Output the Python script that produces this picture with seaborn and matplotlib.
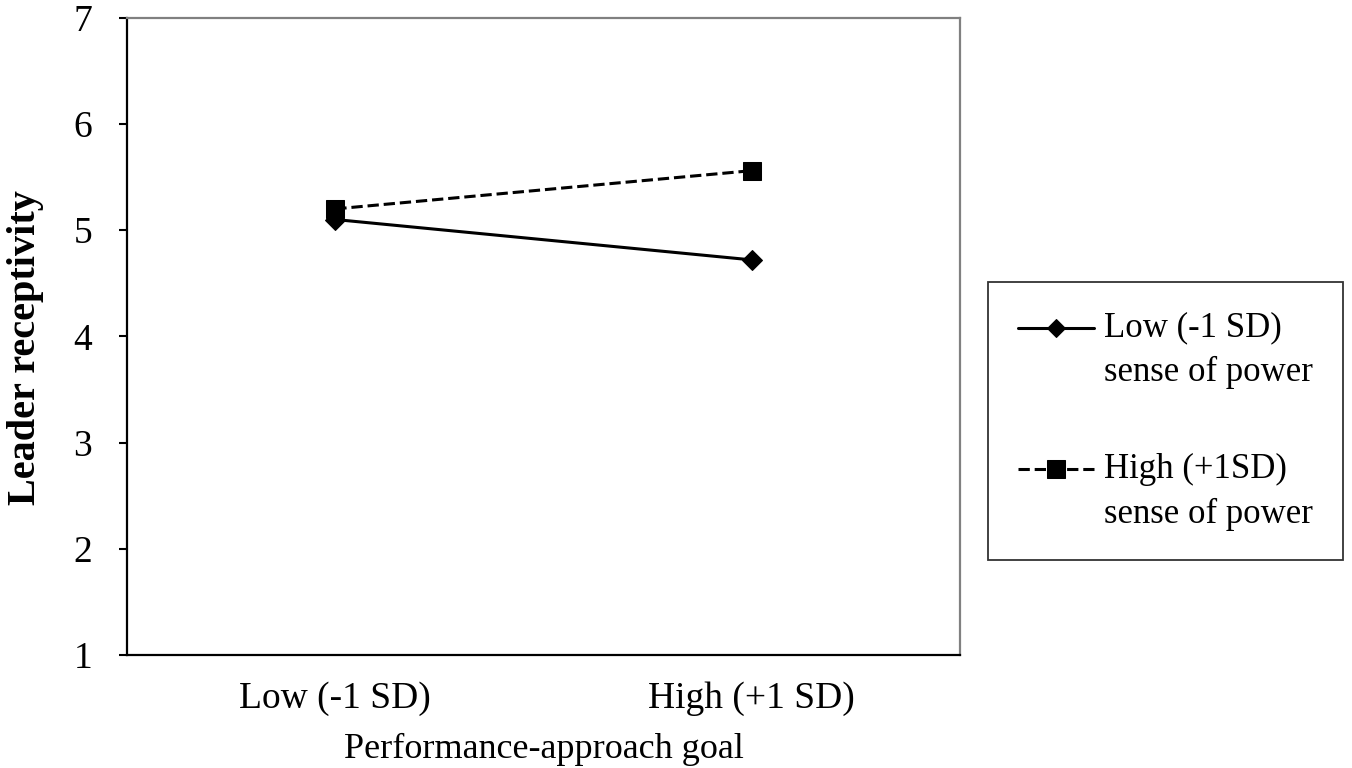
import matplotlib
matplotlib.use("Agg")
import matplotlib.pyplot as plt
import seaborn as sns
import pandas as pd
from matplotlib.legend_handler import HandlerLine2D

# | Data |---------------------------------------------------------------------|
goal_levels = ["Low (-1 SD)", "High (+1 SD)"]
low_power = [5.10, 4.72]
high_power = [5.20, 5.56]
series_labels = ["Low (-1 SD)\nsense of power", "High (+1SD)\nsense of power"]
y_ticks = [1, 2, 3, 4, 5, 6, 7]
# |---------------------------------------------------------------------------|

LEGEND_FS = 25


class FirstLineHandler(HandlerLine2D):
    """Line handle aligned with the first text line instead of the middle."""
    def create_artists(self, legend, orig_handle, xdescent, ydescent,
                       width, height, fontsize, trans):
        artists = super().create_artists(legend, orig_handle, xdescent, ydescent,
                                         width, height, fontsize, trans)
        for a in artists:
            a.set_ydata([y + 0.66 * fontsize for y in a.get_ydata()])
        return artists


sns.set_theme(style="white")
plt.rcParams["font.family"] = ["Liberation Serif", "DejaVu Serif"]
plt.rcParams["text.color"] = "black"
plt.rcParams["xtick.color"] = "black"
plt.rcParams["ytick.color"] = "black"
plt.rcParams["axes.labelcolor"] = "black"

df = pd.DataFrame({
    "goal": goal_levels * 2,
    "value": low_power + high_power,
    "power": [series_labels[0]] * 2 + [series_labels[1]] * 2,
})

fig = plt.figure(figsize=(13.52, 7.68), dpi=100)
ax = fig.add_axes([0.094, 0.147, 0.616, 0.830])

styles = {
    series_labels[0]: dict(marker="D", linestyle="-", markersize=10),
    series_labels[1]: dict(marker="s", linestyle="--", markersize=13),
}
for name in series_labels:
    sub = df[df["power"] == name]
    sns.lineplot(data=sub, x="goal", y="value", ax=ax, color="black",
                 linewidth=2.2, label=name, markeredgecolor="black",
                 markerfacecolor="black", **styles[name])

ax.set_xlim(-0.5, 1.5)
ax.set_ylim(1, 7)
ax.set_yticks(y_ticks)
ax.tick_params(axis="y", direction="out", length=6, width=1.5,
               pad=19, labelsize=27, left=True)
ax.tick_params(axis="x", length=0, pad=19, labelsize=27)

for side in ["left", "bottom"]:
    ax.spines[side].set_color("black")
    ax.spines[side].set_linewidth(1.6)
for side in ["top", "right"]:
    ax.spines[side].set_color("#808080")
    ax.spines[side].set_linewidth(1.6)

ax.set_xlabel("Performance-approach goal", fontsize=26, labelpad=12)
ax.set_ylabel("Leader receptivity", fontsize=29, fontweight="bold")
ax.yaxis.set_label_coords(-0.1, 0.482)

ax.get_legend().remove()
handles, labels = ax.get_legend_handles_labels()
leg = fig.legend(handles, labels, loc="center left",
                 bbox_to_anchor=(988 / 1352, 1 - 421 / 768),
                 fontsize=LEGEND_FS, frameon=True, fancybox=False, edgecolor="black",
                 borderpad=0.85, labelspacing=1.85, handlelength=2.2,
                 handletextpad=0.3, borderaxespad=0,
                 handler_map={h: FirstLineHandler() for h in handles})
leg.get_frame().set_linewidth(1.3)
for t in leg.get_texts():
    t.set_linespacing(1.45)
for h in leg.legend_handles:
    h.set_markersize(9 if h.get_marker() == "D" else 13)

fig.savefig("out.png", dpi=100, facecolor="white")
